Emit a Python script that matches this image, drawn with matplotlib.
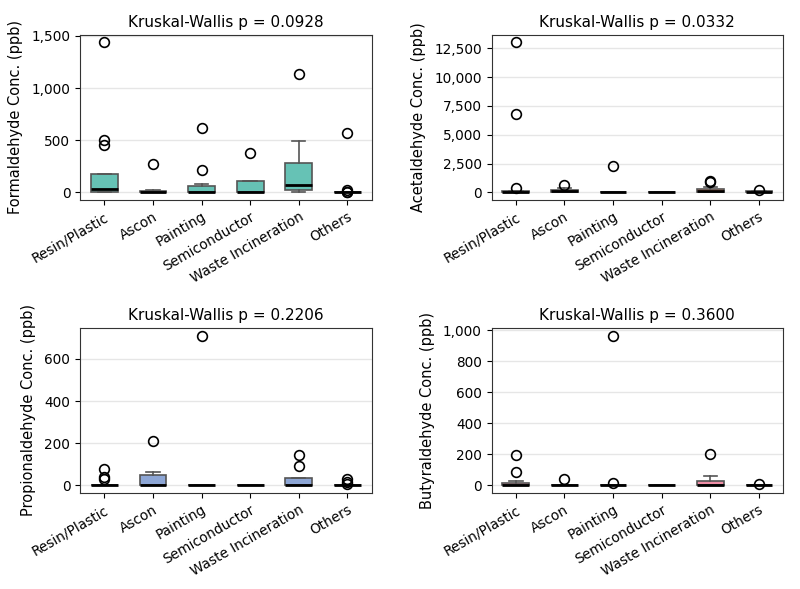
import matplotlib
matplotlib.use("Agg")
import matplotlib.pyplot as plt
from matplotlib.ticker import FuncFormatter, MultipleLocator

plt.rcParams['font.family'] = 'DejaVu Sans'

industries = ['Resin/Plastic', 'Ascon', 'Painting', 'Semiconductor',
              'Waste Incineration', 'Others']

# box statistics (ppb)
form_q1 = [0, 0, 0, 0, 19, 0]
form_med = [32, 2, 0, 5, 70, 0]
form_q3 = [180, 10, 64, 106, 285, 3]
form_lo = [0, 0, 0, 0, 0, 0]
form_hi = [180, 20, 77, 106, 494, 5]
form_fliers = [[1436, 500, 458], [269], [218, 619], [378], [1138],
               [567, 22, 3, 1]]

acet_q1 = [0, 20, 0, 10, 20, 0]
acet_med = [50, 100, 5, 30, 100, 40]
acet_q3 = [100, 250, 20, 50, 300, 100]
acet_lo = [0, 0, 0, 0, 0, 0]
acet_hi = [150, 350, 30, 60, 450, 150]
acet_fliers = [[13000, 6773, 378], [669], [2326], [], [1017, 950], [230]]

prop_q1 = [0, 0, 0, 0, 0, 0]
prop_med = [0, 0, 0, 0, 0, 0]
prop_q3 = [2, 49, 1, 1, 35, 2]
prop_lo = [0, 0, 0, 0, 0, 0]
prop_hi = [3, 65, 1, 1, 35, 3]
prop_fliers = [[76, 41, 30], [213], [711], [], [145, 92], [32, 17, 6]]

buty_q1 = [0, 0, 0, 0, 0, 0]
buty_med = [5, 0, 0, 0, 2, 0]
buty_q3 = [19, 2, 2, 1, 30, 2]
buty_lo = [0, 0, 0, 0, 0, 0]
buty_hi = [28, 3, 3, 1, 63, 3]
buty_fliers = [[199, 89], [41], [966, 19], [], [204], [8]]

panels = [
    ('Formaldehyde Conc. (ppb)', 'Kruskal-Wallis p = 0.0928', '#66c2b5',
     form_q1, form_med, form_q3, form_lo, form_hi, form_fliers, 500),
    ('Acetaldehyde Conc. (ppb)', 'Kruskal-Wallis p = 0.0332', '#fc8d62',
     acet_q1, acet_med, acet_q3, acet_lo, acet_hi, acet_fliers, 2500),
    ('Propionaldehyde Conc. (ppb)', 'Kruskal-Wallis p = 0.2206', '#8da6d5',
     prop_q1, prop_med, prop_q3, prop_lo, prop_hi, prop_fliers, 200),
    ('Butyraldehyde Conc. (ppb)', 'Kruskal-Wallis p = 0.3600', '#ee8ea6',
     buty_q1, buty_med, buty_q3, buty_lo, buty_hi, buty_fliers, 200),
]

fig, axes = plt.subplots(2, 2, figsize=(8, 5.89), dpi=100)
fig.subplots_adjust(left=0.1, right=0.979, top=0.9406, bottom=0.163,
                    wspace=0.411, hspace=0.776)

for ax, (ylabel, title, color, q1, med, q3, lo, hi, fl, step) in zip(axes.flatten(), panels):
    stats = []
    for i, name in enumerate(industries):
        stats.append({'label': name, 'q1': q1[i], 'med': med[i], 'q3': q3[i],
                      'whislo': lo[i], 'whishi': hi[i], 'fliers': fl[i]})
    ax.bxp(stats, widths=0.55, patch_artist=True, showfliers=True,
           boxprops=dict(facecolor=color, edgecolor='#555555', linewidth=1.2),
           whiskerprops=dict(color='#555555', linewidth=1.2),
           capprops=dict(color='#555555', linewidth=1.2),
           medianprops=dict(color='black', linewidth=2),
           flierprops=dict(marker='o', markerfacecolor='none',
                           markeredgecolor='black', markersize=7,
                           markeredgewidth=1.2))
    ax.set_title(title, fontsize=11)
    ax.set_ylabel(ylabel, fontsize=10.5, labelpad=6)
    ax.yaxis.set_major_locator(MultipleLocator(step))
    ax.yaxis.set_major_formatter(FuncFormatter(lambda v, p: f'{v:,.0f}'))
    ax.grid(axis='y', color='#e6e6e6', linewidth=1)
    ax.set_axisbelow(True)
    ax.tick_params(axis='both', labelsize=9.8)
    plt.setp(ax.get_xticklabels(), rotation=30, ha='right', rotation_mode='anchor')
    for s in ax.spines.values():
        s.set_color('#333333')

fig.savefig('out.png', dpi=100)
